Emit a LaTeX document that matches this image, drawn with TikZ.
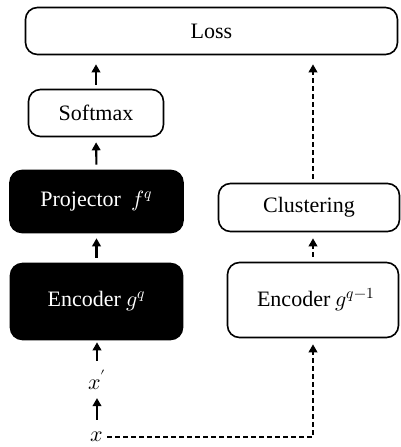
\documentclass[tikz,border=0pt]{standalone}
\usepackage{fontspec}
\usepackage{unicode-math}
\setmainfont{Liberation Serif}
\setmathfont{Latin Modern Math}
\usetikzlibrary{arrows.meta,calc}
\begin{document}
\begin{tikzpicture}[x=1pt,y=-1pt,
  font=\fontsize{22}{26}\selectfont,
  box/.style={draw=black,line width=1.6pt,rounded corners=12pt,inner sep=0pt,align=center},
  dark/.style={box,fill=black,text=white},
  arr/.style={line width=2.1pt,-{Triangle[width=8.5pt,length=8pt]}},
  darr/.style={arr,dash pattern=on 5pt off 3pt}]
\useasboundingbox (0,0) rectangle (401,447);
\node[box,minimum width=372pt,minimum height=47pt] (loss) at (211.5,31) {Loss};
\node[box,minimum width=135pt,minimum height=47pt] (softmax) at (96,113) {Softmax};
\node[dark,minimum width=173pt,minimum height=62pt] (proj) at (96.5,201.5) {Projector \ $f^q$};
\node[box,minimum width=181pt,minimum height=48pt] (clust) at (309,207.5) {Clustering};
\node[dark,minimum width=172pt,minimum height=76pt] (enc) at (96.5,301.5) {Encoder $g^q$};
\node[box,minimum width=171pt,minimum height=75pt] (encp) at (313,300) {\ Encoder $g^{q-1}$};
\node[inner sep=0pt] (xp) at (97,380) {$x'$};
\node[inner sep=0pt] (x) at (97,437) {$x$};
\draw[arr,shorten <=4pt,shorten >=9pt] (softmax.north) -- (softmax.north |- loss.south);
\draw[arr,shorten <=5pt,shorten >=5pt] (proj.north) -- (softmax.south);
\draw[arr,shorten <=5pt,shorten >=5pt] (enc.north) -- (enc.north |- proj.south);
\draw[arr,shorten <=9pt,shorten >=2pt] (xp.north) -- (xp.north |- enc.south);
\draw[arr,shorten <=12pt,shorten >=8pt] (x.north) -- (xp.south);
\draw[darr,shorten <=4pt,shorten >=6pt] (x.east) -- (x.east -| encp.south) -- (encp.south);
\draw[darr,shorten <=5pt,shorten >=6pt] (encp.north) -- (encp.north |- clust.south);
\draw[darr,shorten <=4pt,shorten >=9pt] (encp.north |- clust.north) -- (encp.north |- loss.south);
\end{tikzpicture}
\end{document}
